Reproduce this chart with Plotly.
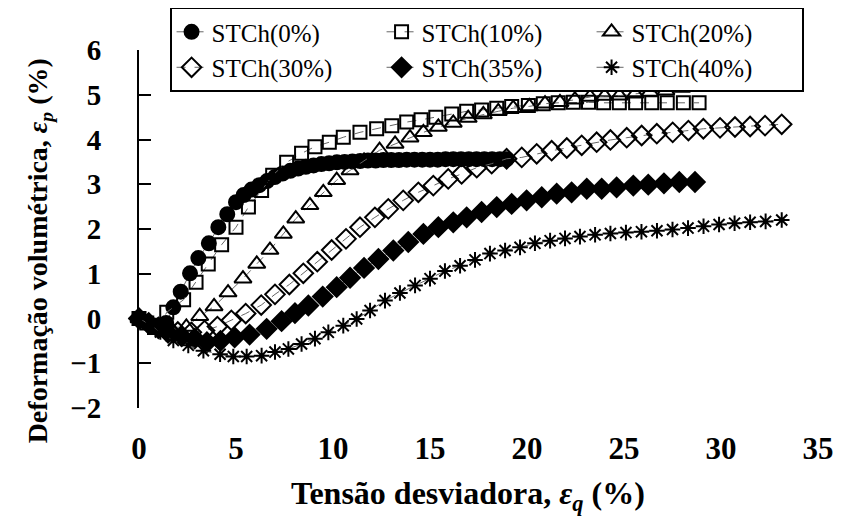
import plotly.graph_objects as go

# readings taken from the figure (eps_q %, eps_p %)
x_0 = [0, 0.35, 0.7, 1.05, 1.4, 1.77, 2.15, 2.63, 3.06, 3.6, 4.09, 4.55, 5.0, 5.4, 5.8, 6.2, 6.6, 7.0, 7.4, 7.8,
       8.2, 8.6, 9.0, 9.4, 9.8, 10.2, 10.6, 11.0, 11.4, 11.8, 12.2, 12.6, 13.0, 13.4, 13.8, 14.2, 14.6, 15.0, 15.4, 15.8,
       16.2, 16.6, 17.0, 17.4, 17.8, 18.2, 18.6, 18.95]
y_0 = [0, -0.08, -0.18, -0.22, -0.1, 0.25, 0.6, 1.01, 1.35, 1.68, 2.04, 2.33, 2.6, 2.76, 2.88, 2.98, 3.07, 3.16, 3.24, 3.3,
       3.35, 3.39, 3.42, 3.45, 3.47, 3.49, 3.5, 3.51, 3.52, 3.53, 3.53, 3.54, 3.54, 3.54, 3.55, 3.55, 3.55, 3.55, 3.55, 3.56,
       3.56, 3.56, 3.56, 3.56, 3.56, 3.56, 3.56, 3.56]

x_10 = [0, 0.4, 0.8, 1.1, 1.43, 2.3, 2.94, 3.57, 4.26, 5.0, 5.64, 6.32, 6.89, 7.61, 8.38, 9.07, 9.81, 10.53, 11.39, 12.25,
        13.03, 13.8, 14.54, 15.3, 16.12, 16.89, 17.66, 18.44, 19.21, 20.07, 20.84, 21.61, 22.39, 23.17, 23.95, 24.76,
        25.6, 26.43, 27.23, 28.06, 28.87]
y_10 = [0, -0.1, -0.2, -0.15, 0.14, 0.42, 0.81, 1.22, 1.65, 2.04, 2.49, 2.86, 3.2, 3.49, 3.69, 3.84, 3.94, 4.05, 4.16, 4.24,
        4.31, 4.39, 4.44, 4.5, 4.57, 4.63, 4.66, 4.7, 4.74, 4.76, 4.8, 4.82, 4.83, 4.83, 4.82, 4.82,
        4.82, 4.82, 4.82, 4.82, 4.82]

x_20 = [0, 0.5, 1.0, 1.6, 2.44, 3.13, 3.87, 4.59, 5.36, 6.07, 6.75, 7.44, 8.08, 8.81, 9.5, 10.19, 10.88, 11.6, 12.4, 13.2,
        13.97, 14.66, 15.43, 16.2, 16.97, 17.75, 18.52, 19.29, 20.12, 20.93, 21.7, 22.47, 23.25, 24.0, 24.76, 25.57,
        26.34, 27.16, 27.97, 28.75, 29.6, 30.38, 31.15, 31.98]
y_20 = [0, -0.1, -0.18, -0.2, -0.19, 0.05, 0.27, 0.58, 0.89, 1.22, 1.53, 1.89, 2.23, 2.53, 2.82, 3.09, 3.31, 3.52, 3.76, 3.9,
        4.04, 4.16, 4.28, 4.37, 4.48, 4.56, 4.63, 4.7, 4.74, 4.8, 4.83, 4.89, 4.95, 4.97, 4.98, 5.02,
        5.06, 5.09, 5.15, 5.18, 5.23, 5.24, 5.26, 5.28]

x_30 = [0, 0.5, 1.0, 1.5, 2.0, 2.7, 3.38, 4.04, 4.76, 5.5, 6.3, 7.01, 7.75, 8.47, 9.19, 9.93, 10.67, 11.39, 12.16, 12.85,
        13.62, 14.4, 15.17, 15.94, 16.63, 17.41, 18.18, 18.95, 19.73, 20.5, 21.27, 22.05, 22.82, 23.59, 24.3, 25.14,
        25.91, 26.69, 27.51, 28.32, 29.09, 29.95, 30.72, 31.5, 32.27, 33.13]
y_30 = [0, -0.1, -0.2, -0.25, -0.3, -0.31, -0.27, -0.18, -0.04, 0.11, 0.3, 0.54, 0.76, 1.01, 1.27, 1.53, 1.78, 2.04, 2.26, 2.45,
        2.64, 2.82, 2.97, 3.12, 3.23, 3.37, 3.46, 3.57, 3.6, 3.68, 3.75, 3.81, 3.87, 3.94, 3.99, 4.04,
        4.09, 4.13, 4.16, 4.2, 4.24, 4.26, 4.28, 4.29, 4.31, 4.34]

x_35 = [0, 0.5, 1.0, 1.5, 2.2, 2.87, 3.5, 4.2, 4.93, 5.7, 6.58, 7.35, 8.04, 8.73, 9.47, 10.19, 10.88, 11.6, 12.34, 13.11,
        13.88, 14.66, 15.43, 16.2, 16.89, 17.66, 18.44, 19.21, 19.98, 20.76, 21.53, 22.3, 23.08, 23.85, 24.62, 25.48,
        26.25, 27.06, 27.85, 28.66]
y_35 = [0, -0.12, -0.22, -0.32, -0.4, -0.45, -0.53, -0.5, -0.42, -0.36, -0.23, -0.06, 0.12, 0.29, 0.49, 0.7, 0.91, 1.13, 1.33, 1.52,
        1.71, 1.89, 2.04, 2.15, 2.26, 2.38, 2.49, 2.56, 2.64, 2.71, 2.79, 2.82, 2.9, 2.9, 2.93, 2.97,
        2.99, 3.02, 3.05, 3.05]

x_40 = [0, 0.5, 1.1, 1.77, 2.54, 3.32, 4.18, 4.86, 5.55, 6.32, 7.01, 7.7, 8.38, 9.07, 9.76, 10.53, 11.22, 11.91, 12.68, 13.45,
        14.23, 15.0, 15.77, 16.55, 17.32, 18.09, 18.87, 19.64, 20.41, 21.19, 21.96, 22.73, 23.51, 24.3, 25.1, 25.9,
        26.7, 27.5, 28.3, 29.1, 29.9, 30.7, 31.5, 32.3, 33.13]
y_40 = [0, -0.12, -0.3, -0.49, -0.6, -0.72, -0.8, -0.85, -0.85, -0.83, -0.75, -0.68, -0.57, -0.45, -0.31, -0.16, -0.01, 0.18, 0.4, 0.57,
        0.74, 0.89, 1.06, 1.18, 1.31, 1.45, 1.52, 1.59, 1.68, 1.74, 1.79, 1.83, 1.87, 1.9, 1.92, 1.94,
        1.96, 1.99, 2.02, 2.06, 2.1, 2.13, 2.15, 2.17, 2.2]

names = ["STCh(0%)", "STCh(10%)", "STCh(20%)", "STCh(30%)", "STCh(35%)", "STCh(40%)"]
x_ticks = [0, 5, 10, 15, 20, 25, 30, 35]
y_ticks = [-2, -1, 0, 1, 2, 3, 4, 5, 6]

SERIF = "Liberation Serif"

series = [
    (x_0, y_0, "circle", 14),
    (x_10, y_10, "square-open", 13),
    (x_20, y_20, "triangle-up-open", 15),
    (x_30, y_30, "diamond-open", 15),
    (x_35, y_35, "diamond", 15),
    (x_40, y_40, "asterisk-open", 13),
]

fig = go.Figure()
for name, (xs, ys, sym, size) in zip(names, series):
    assert len(xs) == len(ys), name
    fig.add_trace(go.Scatter(
        x=xs, y=ys, name=name, mode="lines+markers",
        line=dict(color="#666", width=1, dash="dash"),
        marker=dict(symbol=sym, size=size, color="black", line=dict(color="black", width=2)),
        cliponaxis=False,
    ))

# page body keeps an 8px margin, so the figure is 8px smaller than the window
fig.update_layout(
    width=833, height=514,
    margin=dict(l=131, r=23, t=42, b=114, autoexpand=False),
    paper_bgcolor="white", plot_bgcolor="white",
    font=dict(family=SERIF, color="black"),
    showlegend=True,
    legend=dict(
        orientation="h", x=0.045, y=1.12, xanchor="left", yanchor="top",
        font=dict(family=SERIF, size=25, color="black"),
        bordercolor="black", borderwidth=2, bgcolor="white",
        entrywidth=165, tracegroupgap=0, itemwidth=30,
    ),
    xaxis=dict(
        range=[0, 35], tickvals=x_ticks, showline=False, ticks="", showgrid=False, zeroline=False,
        tickfont=dict(family=SERIF, size=31, weight="bold", color="black"), ticklabelstandoff=19,
    ),
    xaxis2=dict(
        overlaying="x", matches="x", anchor="free", position=0.25, range=[0, 35], tickvals=x_ticks,
        showline=True, linecolor="black", linewidth=2, ticks="outside", ticklen=10, tickwidth=2,
        tickcolor="black", showticklabels=False, showgrid=False, zeroline=False,
    ),
    xaxis3=dict(
        overlaying="x", matches="x", anchor="free", position=0.25, range=[0, 35], tickvals=x_ticks,
        showline=False, ticks="inside", ticklen=10, tickwidth=2,
        tickcolor="black", showticklabels=False, showgrid=False, zeroline=False,
    ),
    yaxis=dict(
        range=[-2, 6], tickvals=y_ticks, showline=True, linecolor="black", linewidth=2,
        ticks="inside", ticklen=12, tickwidth=2, tickcolor="black", showgrid=False, zeroline=False,
        tickfont=dict(family=SERIF, size=29, weight="bold", color="black"), ticklabelstandoff=30,
    ),
    annotations=[
        dict(text="Deformação volumétrica, <i>ε<sub>p</sub></i> (%)", textangle=-90,
             xref="paper", yref="paper", x=-0.146, y=0.44, xanchor="center", yanchor="middle",
             showarrow=False, font=dict(family=SERIF, size=28, weight="bold", color="black")),
        dict(text="Tensão desviadora, <i>ε<sub>q</sub></i> (%)",
             xref="paper", yref="paper", x=0.4845, y=-0.245, xanchor="center", yanchor="middle",
             showarrow=False, font=dict(family=SERIF, size=32, weight="bold", color="black")),
    ],
)

fig.write_html("out.html")
